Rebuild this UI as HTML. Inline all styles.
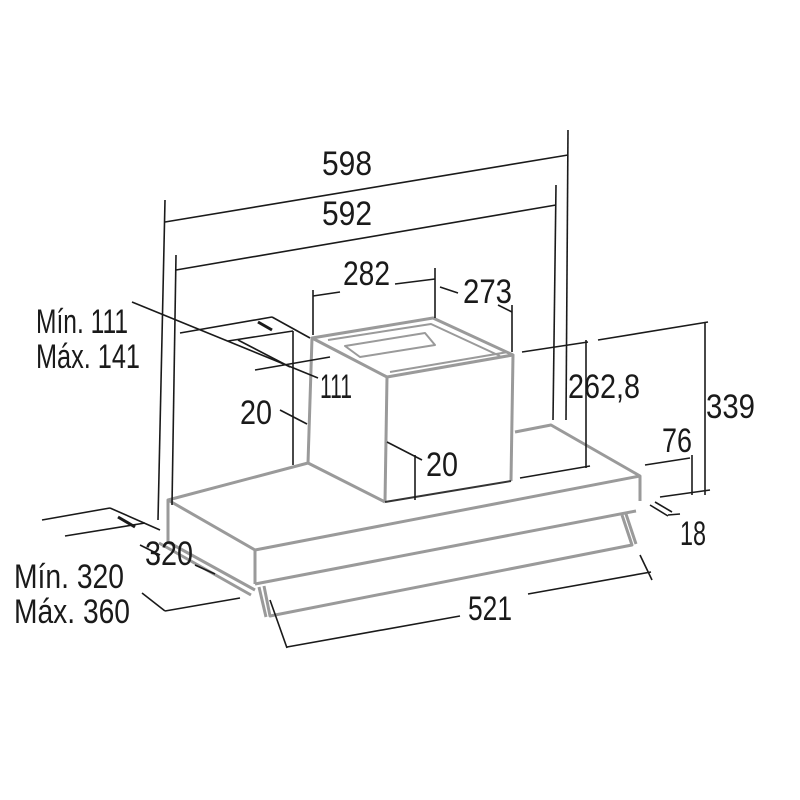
<!DOCTYPE html>
<html><head><meta charset="utf-8"><style>
html,body{margin:0;padding:0;background:#fff}
svg{display:block}
text{font-family:"Liberation Sans Narrow","Liberation Sans",sans-serif;font-size:34px;fill:#1a1a1a}
</style></head><body>
<svg width="800" height="800" viewBox="0 0 800 800" xmlns="http://www.w3.org/2000/svg">
<g fill="none" stroke="#9a9a9a" stroke-width="3" stroke-linejoin="round">
<polyline points="308,463 168,500 255,550 640,476 551,425 515,432"/>
<line x1="168" y1="500" x2="168" y2="542"/>
<line x1="255" y1="550" x2="255" y2="584"/>
<line x1="640" y1="476" x2="640" y2="501"/>
<line x1="255" y1="584" x2="636" y2="511"/>
<line x1="159" y1="543" x2="251" y2="595"/>
<line x1="168" y1="542" x2="255" y2="590"/>
<polyline points="264,586 270,616 632,545 622,515"/>
<line x1="259" y1="587" x2="266" y2="617"/>
<line x1="626" y1="514" x2="636" y2="544"/>
<polygon points="312,338 433,318 513,355 387,377"/>
<line x1="312" y1="338" x2="308" y2="463"/>
<line x1="387" y1="377" x2="385" y2="502"/>
<line x1="513" y1="355" x2="511" y2="481"/>
<line x1="308" y1="463" x2="385" y2="502"/>
<polyline points="328,340 431,324 500,356" stroke-width="2"/>
<polygon points="345,346 425,333 435,345 360,357" stroke-width="2"/>
<line x1="390" y1="372" x2="508" y2="352" stroke-width="2"/>
<line x1="385" y1="502" x2="511" y2="481" stroke="#333" stroke-width="2"/>
</g>
<g fill="none" stroke="#1a1a1a" stroke-width="1.6">
<line x1="165" y1="200" x2="158" y2="520"/>
<line x1="568" y1="130" x2="566" y2="420"/>
<line x1="165" y1="222" x2="568" y2="155"/>
<line x1="176" y1="255" x2="172" y2="505"/>
<line x1="556" y1="185" x2="553" y2="420"/>
<line x1="176" y1="270" x2="556" y2="205"/>
<line x1="313" y1="290" x2="313" y2="335"/>
<line x1="435" y1="268" x2="435" y2="318"/>
<line x1="313" y1="296" x2="340" y2="292"/>
<line x1="395" y1="284" x2="435" y2="279"/>
<line x1="440" y1="287" x2="458" y2="293"/>
<line x1="512" y1="305" x2="512" y2="352"/>
<line x1="498" y1="305" x2="512" y2="312"/>
<line x1="522" y1="352" x2="588" y2="342"/>
<line x1="586" y1="340" x2="586" y2="468"/>
<line x1="520" y1="478" x2="590" y2="466"/>
<line x1="598" y1="340" x2="708" y2="322"/>
<line x1="705" y1="322" x2="705" y2="495"/>
<line x1="660" y1="497" x2="710" y2="490"/>
<line x1="645" y1="465" x2="690" y2="458"/>
<line x1="692" y1="455" x2="692" y2="495"/>
<line x1="668" y1="515" x2="680" y2="514"/>
<line x1="650" y1="505" x2="668" y2="516"/>
<line x1="655" y1="502" x2="672" y2="512"/>
<line x1="132" y1="302" x2="318" y2="378"/>
<line x1="180" y1="333" x2="272" y2="317"/>
<line x1="272" y1="317" x2="310" y2="338"/>
<line x1="228" y1="341" x2="293" y2="331"/>
<line x1="238" y1="340" x2="290" y2="367"/>
<line x1="255" y1="370" x2="330" y2="357"/>
<line x1="293" y1="331" x2="293" y2="465"/>
<line x1="258" y1="322" x2="272" y2="330" stroke-width="3"/>
<line x1="280" y1="410" x2="307" y2="424"/>
<line x1="387" y1="442" x2="422" y2="460"/>
<line x1="415" y1="455" x2="415" y2="500"/>
<line x1="42" y1="520" x2="110" y2="508"/>
<line x1="110" y1="508" x2="160" y2="530"/>
<line x1="65" y1="536" x2="145" y2="523"/>
<line x1="118" y1="517" x2="135" y2="527" stroke-width="3"/>
<line x1="140" y1="545" x2="160" y2="555"/>
<line x1="195" y1="565" x2="215" y2="574"/>
<line x1="142" y1="593" x2="165" y2="611"/>
<line x1="165" y1="611" x2="240" y2="598"/>
<line x1="270" y1="600" x2="287" y2="648"/>
<line x1="640" y1="555" x2="652" y2="580"/>
<line x1="287" y1="647" x2="460" y2="616"/>
<line x1="528" y1="594" x2="651" y2="572"/>
</g>
<g lengthAdjust="spacingAndGlyphs">
<text x="322" y="175" textLength="50" lengthAdjust="spacingAndGlyphs">598</text>
<text x="322" y="225" textLength="50" lengthAdjust="spacingAndGlyphs">592</text>
<text x="343" y="285" textLength="47" lengthAdjust="spacingAndGlyphs">282</text>
<text x="463" y="303" textLength="49" lengthAdjust="spacingAndGlyphs">273</text>
<text x="568" y="398" textLength="72" lengthAdjust="spacingAndGlyphs">262,8</text>
<text x="706" y="418" textLength="49" lengthAdjust="spacingAndGlyphs">339</text>
<text x="662" y="452" textLength="30" lengthAdjust="spacingAndGlyphs">76</text>
<text x="680" y="545" textLength="26" lengthAdjust="spacingAndGlyphs">18</text>
<text x="36" y="333" textLength="92" lengthAdjust="spacingAndGlyphs">Mín. 111</text>
<text x="36" y="368" textLength="104" lengthAdjust="spacingAndGlyphs">Máx. 141</text>
<text x="320" y="398" textLength="32" lengthAdjust="spacingAndGlyphs">111</text>
<text x="240" y="424" textLength="32" lengthAdjust="spacingAndGlyphs">20</text>
<text x="426" y="476" textLength="32" lengthAdjust="spacingAndGlyphs">20</text>
<text x="145" y="565" textLength="48" lengthAdjust="spacingAndGlyphs">320</text>
<text x="14" y="588" textLength="110" lengthAdjust="spacingAndGlyphs">Mín. 320</text>
<text x="14" y="623" textLength="116" lengthAdjust="spacingAndGlyphs">Máx. 360</text>
<text x="468" y="620" textLength="44" lengthAdjust="spacingAndGlyphs">521</text>
</g>
</svg>
</body></html>
